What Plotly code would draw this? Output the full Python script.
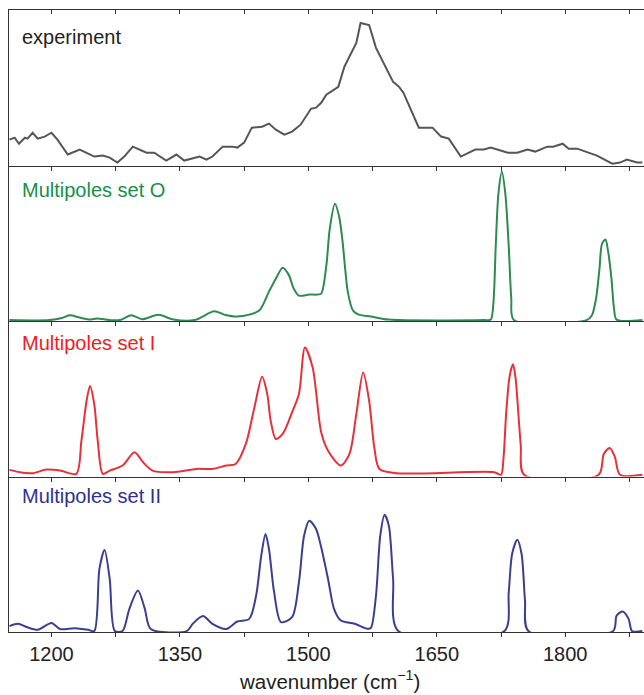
import plotly.graph_objects as go

# ---------------- data ----------------
exp_wn = [1151,1157,1162,1169,1172,1178,1184,1192,1200,1207,1219,1233,1250,1260,1268,1277,1285,1295,1311,1320,
          1334,1346,1355,1373,1381,1388,1400,1411,1417,1425,1434,1446,1454,1462,1472,1481,1491,1503,1509,1515,
          1521,1535,1542,1556,1561,1571,1579,1599,1606,1611,1629,1645,1655,1664,1678,1686,1695,1705,1713,1733,
          1744,1756,1765,1779,1786,1797,1804,1814,1826,1837,1855,1864,1872,1884,1890]
exp_int = [16.1,17.4,13.5,17.4,16.8,20.6,16.8,18.1,20.6,16.1,6.5,9.7,5.2,5.8,4.5,1.3,5.2,11.6,7.7,7.7,
           2.6,6.5,2.6,5.2,3.2,5.2,11.6,11.6,11.0,14.2,23.9,24.5,26.5,22.6,19.4,21.3,25.8,36.1,36.8,40,
           45.2,50.3,63.2,78.7,91.6,90.3,75.5,53.5,50.3,46.5,23.9,23.9,18.1,16.8,5.2,7.1,9.7,9.7,11.0,7.7,
           7.7,9.7,8.4,11.6,11.6,13.5,10.3,10.3,7.7,5.8,0.6,1.3,3.2,1.3,1.3]

setO_wn = [1151,1198,1212,1221,1233,1245,1253,1268,1280,1293,1306,1325,1341,1367,1390,1402,1416,1431,1443,1454,
           1462,1470,1477,1483,1489,1501,1510,1515,1521,1525,1531,1536,1540,1543,1546,1552,1559,1573,1594,1705,
           1713,1716,1719,1722,1726,1730,1734,1737,1740,1825,1831,1836,1840,1843,1847,1850,1854,1857,1860,1890]
setO_int = [0,0,1.3,3.1,1.6,0.3,1,0,0,3.1,0.6,3.5,0.6,0,5.7,3.5,2.3,3.5,6.3,18.4,
            26.8,33.9,29.4,20.3,15.8,16.5,16.5,17.1,35.2,59,75.2,66.8,50.6,33.2,18.4,6.3,3.5,2.3,0.3,0,
            0.3,10,50,82,96,82,48,14,0,0,2.9,13.9,33.2,49.4,52.1,44.8,26.8,7.4,0.3,0]

setI_wn = [1151,1163,1178,1194,1210,1229,1235,1241,1245,1250,1254,1260,1268,1283,1297,1307,1318,1342,1369,1388,
           1404,1415,1427,1437,1446,1452,1456,1462,1470,1481,1489,1496,1505,1515,1523,1538,1548,1556,1564,1571,
           1577,1583,1604,1717,1725,1728,1731,1735,1739,1742,1744,1748,1752,1839,1845,1852,1858,1864,1890]
setI_int = [3.7,2.2,1.5,3.9,3.3,1.1,22.6,48.4,58,46,22.6,1.1,3.2,6.5,15.1,8.6,3.2,2.2,4.3,4.3,
            6.5,7.5,20.5,44.1,63.9,52.7,35.5,23.7,26.9,40.9,52.7,82.8,69.9,28,16.1,6.5,14,39.8,66.7,48.4,
            18.3,4.3,1.5,2.2,0.5,12,40,64,72,63,50,20,0.5,0.5,14,17.9,12,0.5,0.5]

setII_wn = [1151,1161,1171,1184,1200,1210,1227,1243,1250,1256,1262,1268,1274,1283,1291,1301,1309,1316,1358,1365,
            1377,1388,1404,1417,1431,1439,1445,1450,1454,1460,1468,1481,1489,1495,1501,1509,1515,1523,1530,1538,
            1554,1569,1573,1579,1584,1589,1594,1599,1605,1729,1734,1738,1744,1749,1753,1757,1856,1860,1867,1874,
            1878,1890]
setII_int = [3.2,4.7,2.6,0.8,5.2,1.3,1.9,0.8,0,40.2,52.5,33.7,0,0,14.4,26.2,14.4,1.3,0,4.7,
             9.7,4.7,1.3,6.2,7.9,23,48.8,62.8,53.1,25.2,5.8,9,31.6,61.7,71.4,66,54.2,33.7,14.4,6.8,
             4.7,1.5,2,23,61.7,75.2,68.1,33.7,0,0,25,50,59.1,50,20,0,0,10,12.6,7.9,
             0,0]

panel_labels = ["experiment", "Multipoles set O", "Multipoles set I", "Multipoles set II"]
tick_vals = [1200, 1275, 1350, 1425, 1500, 1575, 1650, 1725, 1800, 1875]
tick_text = ["1200", " ", "1350", " ", "1500", " ", "1650", " ", "1800", " "]
x_title = "wavenumber (cm<sup>−1</sup>)"

# ---------------- styling ----------------
line_colors = ["#555555", "#2e8b50", "#e8303a", "#3a3f90"]
text_colors = ["#222222", "#16904a", "#ee1c25", "#2e3192"]
series = [(exp_wn, exp_int), (setO_wn, setO_int), (setI_wn, setI_int), (setII_wn, setII_int)]
shapes_mode = ["linear", "spline", "spline", "spline"]
FONT = "Liberation Sans, Arial, Helvetica, sans-serif"
XR = [1150.4, 1892]
YR = [-0.6, 100]
domains = [[0.75, 1.0], [0.5, 0.75], [0.25, 0.5], [0.0, 0.25]]
AX = "#333333"

fig = go.Figure()
for i, ((xs, ys), col) in enumerate(zip(series, line_colors)):
    n = "" if i == 0 else str(i + 1)
    tr = dict(x=xs, y=ys, mode="lines", xaxis="x" + n, yaxis="y" + n,
              line=dict(color=col, width=2, shape=shapes_mode[i]), showlegend=False, hoverinfo="skip")
    if shapes_mode[i] == "spline":
        tr["line"]["smoothing"] = 0.8
    fig.add_trace(go.Scatter(**tr))

# empty trace to activate top axis of panel 1
fig.add_trace(go.Scatter(x=[], y=[], xaxis="x5", yaxis="y", showlegend=False))

layout = dict(width=644, height=695, margin=dict(l=9, r=0, t=10, b=63),
              paper_bgcolor="white", plot_bgcolor="white",
              font=dict(family=FONT, size=20, color="#222"))
for i in range(4):
    n = "" if i == 0 else str(i + 1)
    layout["xaxis" + n] = dict(domain=[0, 1], range=XR, anchor="y" + n,
                               showline=True, linecolor=AX, linewidth=1.4,
                               ticks="outside", ticklen=4, tickwidth=1.2, tickcolor=AX,
                               tickvals=tick_vals, ticktext=tick_text,
                               showticklabels=(i == 3), showgrid=False, zeroline=False,
                               tickfont=dict(size=20, color="#222"))
    layout["yaxis" + n] = dict(domain=domains[i], range=YR, anchor="x" + n,
                               showline=True, linecolor=AX, linewidth=1.4,
                               ticks="", showticklabels=False, showgrid=False, zeroline=False)
layout["xaxis5"] = dict(overlaying="x", side="top", anchor="y", range=XR, domain=[0, 1],
                        showline=True, linecolor=AX, linewidth=1.4,
                        ticks="inside", ticklen=4, tickwidth=1.2, tickcolor=AX,
                        tickvals=tick_vals, showticklabels=False, showgrid=False, zeroline=False)

ann = []
label_y = [0.9566, 0.7106, 0.4654, 0.2186]
for lab, yy, c in zip(panel_labels, label_y, text_colors):
    ann.append(dict(text=lab, xref="paper", yref="paper", x=0.0175, y=yy, xanchor="left", yanchor="middle",
                    showarrow=False, font=dict(family=FONT, size=20, color=c)))
ann.append(dict(text=x_title, xref="paper", yref="paper", x=0.505, y=-0.077, xanchor="center",
                yanchor="middle", showarrow=False, font=dict(family=FONT, size=20.5, color="#222")))
layout["annotations"] = ann

fig.update_layout(**layout)
fig.write_html("out.html")
